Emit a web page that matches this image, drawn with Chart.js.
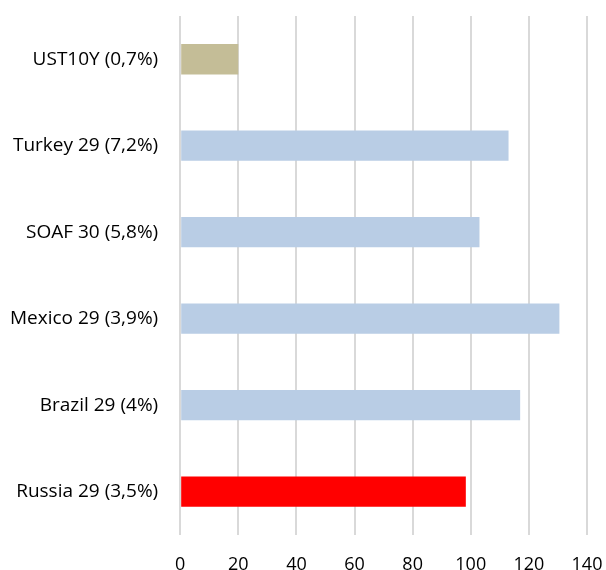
<!DOCTYPE html>
<html>
<head>
<meta charset="utf-8">
<script src="https://cdn.jsdelivr.net/npm/chart.js@4"></script>
<style>
  html, body { margin: 0; padding: 0; background: #fff; }
  #wrap { width: 606px; height: 570px; }
</style>
</head>
<body>
<div id="wrap"><canvas id="myChart" width="606" height="570"></canvas></div>
<script>
const labels = ["UST10Y (0,7%)", "Turkey 29 (7,2%)", "SOAF 30 (5,8%)", "Mexico 29 (3,9%)", "Brazil 29 (4%)", "Russia 29 (3,5%)"];
const values = [20, 113, 103, 130.5, 117, 98.3];
const barColors = ["#C4BD97", "#B9CDE5", "#B9CDE5", "#B9CDE5", "#B9CDE5", "#FF0000"];
const xTicks = [0, 20, 40, 60, 80, 100, 120, 140];

const chart = new Chart(document.getElementById("myChart"), {
    type: "bar",
    data: {
        labels: labels,
        datasets: [{
            data: values,
            backgroundColor: barColors,
            categoryPercentage: 1,
            barPercentage: 0.35
        }]
    },
    options: {
        indexAxis: "y",
        animation: false,
        responsive: false,
        layout: { padding: { top: 16, right: 19, bottom: 0, left: 10 } },
        plugins: { legend: { display: false }, tooltip: { enabled: false } },
        scales: {
            x: {
                min: 0,
                max: 140,
                afterBuildTicks: axis => { axis.ticks = xTicks.map(v => ({ value: v })); },
                grid: { color: "#D9D9D9", lineWidth: 2, drawTicks: false },
                border: { display: false },
                ticks: { color: "#000", font: { family: "Open Sans", size: 18, lineHeight: 0.95 }, padding: 21, maxRotation: 0 },
                afterFit: axis => { axis.height -= 24; axis.paddingLeft = 0; axis.paddingRight = 0; }
            },
            y: {
                grid: { display: false, drawTicks: false },
                border: { display: false },
                ticks: { color: "#000", font: { family: "Open Sans", size: 19 }, padding: 22 },
                // keep the label gap out of the plot's top/bottom and left margin
                afterFit: axis => { axis.paddingTop = 0; axis.paddingBottom = 0; axis.width -= 22; }
            }
        }
    }
});
</script>
</body>
</html>
